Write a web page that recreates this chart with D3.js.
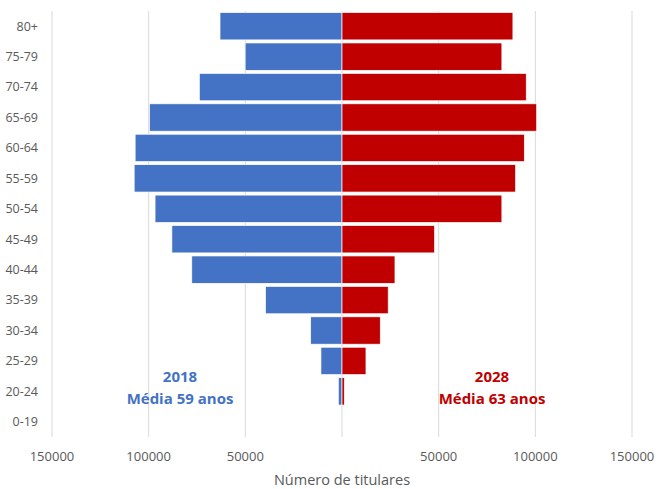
<!DOCTYPE html>
<html>
<head>
<meta charset="utf-8">
<script src="https://cdn.jsdelivr.net/npm/d3@7"></script>
<style>
  body { margin: 0; background: #fff; }
  text { font-family: "Open Sans", "Noto Sans", sans-serif; }
</style>
</head>
<body>
<script>
// age groups, top to bottom
var ages = ["80+", "75-79", "70-74", "65-69", "60-64", "55-59", "50-54", "45-49",
            "40-44", "35-39", "30-34", "25-29", "20-24", "0-19"];
var v2018 = [63100, 50100, 73800, 99600, 107000, 107500, 96700, 88000,
             77700, 39600, 16200, 10900, 1900, 0];
var v2028 = [88400, 82700, 95300, 100700, 94300, 89800, 82700, 47900,
             27400, 23900, 19800, 12400, 1200, 0];
var ticks = [-150000, -100000, -50000, 50000, 100000, 150000];

var width = 659, height = 489;
var svg = d3.select("body").append("svg")
    .attr("width", width)
    .attr("height", height);

var x = d3.scaleLinear().domain([-150000, 150000]).range([52, 632]);
var y = d3.scaleBand().domain(ages).range([11, 437]).paddingInner(0.1).paddingOuter(0.05);

// gridlines
svg.append("g").selectAll("line")
  .data(ticks.concat([0]))
  .enter().append("line")
    .attr("x1", function(d) { return x(d); })
    .attr("x2", function(d) { return x(d); })
    .attr("y1", 11)
    .attr("y2", 437)
    .attr("stroke", "#d9d9d9")
    .attr("stroke-width", 1);

// 2018 bars (left)
svg.append("g").selectAll("rect")
  .data(ages)
  .enter().append("rect")
    .attr("x", function(d, i) { return x(-v2018[i]); })
    .attr("y", function(d) { return y(d); })
    .attr("width", function(d, i) { return x(0) - x(-v2018[i]); })
    .attr("height", y.bandwidth())
    .attr("fill", "#4472c4")
    .attr("stroke", "#fff")
    .attr("stroke-width", 0.7);

// 2028 bars (right)
svg.append("g").selectAll("rect")
  .data(ages)
  .enter().append("rect")
    .attr("x", x(0))
    .attr("y", function(d) { return y(d); })
    .attr("width", function(d, i) { return x(v2028[i]) - x(0); })
    .attr("height", y.bandwidth())
    .attr("fill", "#c00000")
    .attr("stroke", "#fff")
    .attr("stroke-width", 0.7);

// age labels
svg.append("g").selectAll("text")
  .data(ages)
  .enter().append("text")
    .attr("x", 38)
    .attr("y", function(d) { return y(d) + y.bandwidth() / 2; })
    .attr("dy", "0.35em")
    .attr("text-anchor", "end")
    .attr("font-size", 12.5)
    .attr("fill", "#595959")
    .text(function(d) { return d; });

// x tick labels (absolute values)
svg.append("g").selectAll("text")
  .data(ticks)
  .enter().append("text")
    .attr("x", function(d) { return x(d); })
    .attr("y", 461)
    .attr("text-anchor", "middle")
    .attr("font-size", 13)
    .attr("fill", "#595959")
    .text(function(d) { return Math.abs(d); });

svg.append("text")
    .attr("x", x(0))
    .attr("y", 485)
    .attr("text-anchor", "middle")
    .attr("font-size", 14.5)
    .attr("fill", "#595959")
    .text("Número de titulares");

// year annotations
var notes = [
  { x: 180, lines: ["2018", "Média 59 anos"], color: "#4472c4" },
  { x: 492, lines: ["2028", "Média 63 anos"], color: "#c00000" }
];
notes.forEach(function(n) {
  var t = svg.append("text")
      .attr("text-anchor", "middle")
      .attr("font-size", 15)
      .attr("font-weight", "bold")
      .attr("fill", n.color);
  t.append("tspan").attr("x", n.x).attr("y", 382).text(n.lines[0]);
  t.append("tspan").attr("x", n.x).attr("y", 404).text(n.lines[1]);
});
</script>
</body>
</html>
